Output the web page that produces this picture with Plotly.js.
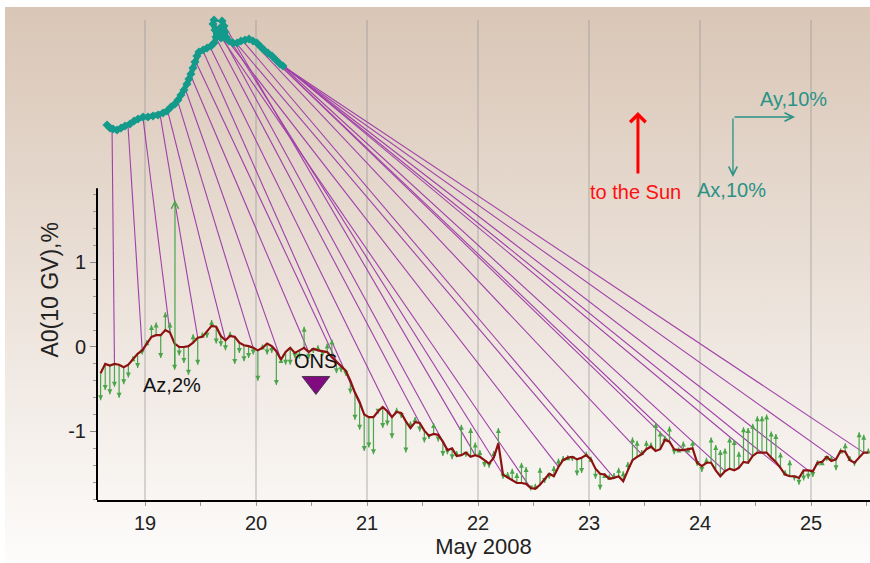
<!DOCTYPE html>
<html>
<head>
<meta charset="utf-8">
<script src="https://cdn.plot.ly/plotly-3.0.1.min.js"></script>
<style>
  html, body { margin: 0; padding: 0; background: #ffffff; }
  #bg { position: absolute; left: 5px; top: 7px; width: 865px; height: 556px;
        background: linear-gradient(to bottom, #d9c6b6 0%, #e9ded5 45%, #fdfcfb 100%); }
  #chart { position: absolute; left: 0; top: 0; width: 870px; height: 563px; }
</style>
</head>
<body>
<div id="bg"></div>
<div id="chart"></div>
<script>
// ---- data (hourly, starting 18 May 2008 ~14:24 UT) ----
const startDay = 18.6;
const a0 = [
 -0.31,-0.20,-0.22,-0.20,-0.21,-0.24,-0.21,-0.14,-0.08,-0.04,
  0.04, 0.12, 0.14, 0.14, 0.20, 0.17, 0.04, 0.00, 0.00, 0.01,
  0.05, 0.11, 0.12, 0.19, 0.25, 0.24, 0.13, 0.08, 0.13, 0.12,
  0.05, 0.02, 0.01,-0.01,-0.04,-0.01, 0.04, 0.01,-0.05,-0.15,
 -0.06,-0.01,-0.07,-0.04,-0.01,-0.06,-0.02,-0.04,-0.05,-0.06,
 -0.12,-0.17,-0.22,-0.28,-0.40,-0.54,-0.65,-0.80,-0.83,-0.83,
 -0.76,-0.71,-0.76,-0.83,-0.77,-0.78,-0.88,-0.96,-0.89,-0.90,
 -0.99,-1.05,-1.03,-1.04,-1.12,-1.22,-1.20,-1.29,-1.28,-1.25,
 -1.30,-1.28,-1.30,-1.34,-1.38,-1.31,-1.14,-1.51,-1.54,-1.57,
 -1.61,-1.61,-1.62,-1.67,-1.68,-1.63,-1.56,-1.50,-1.53,-1.42,
 -1.34,-1.31,-1.30,-1.33,-1.31,-1.28,-1.33,-1.44,-1.50,-1.51,
 -1.56,-1.55,-1.53,-1.59,-1.46,-1.34,-1.30,-1.27,-1.21,-1.18,
 -1.23,-1.21,-1.10,-1.12,-1.21,-1.22,-1.22,-1.21,-1.20,-1.37,
 -1.41,-1.37,-1.37,-1.46,-1.53,-1.47,-1.44,-1.46,-1.43,-1.36,
 -1.37,-1.29,-1.25,-1.25,-1.25,-1.31,-1.36,-1.43,-1.51,-1.53,
 -1.53,-1.55,-1.46,-1.46,-1.47,-1.37,-1.36,-1.30,-1.35,-1.33,
 -1.23,-1.24,-1.34,-1.37,-1.31,-1.25,-1.25
];
const az = [
 -0.32,-0.31,-0.34,-0.27,-0.39,-0.20,-0.15, 0.03,-0.17,-0.05,
  0.04, 0.14, 0.15,-0.27, 0.21, 0.12,-0.31,-0.10,-0.19,-0.34,
  0.10,-0.32, 0.05,-0.08, 0.07,-0.20,-0.12,-0.12, 0.05,-0.32,
 -0.12,-0.19,-0.14,-0.08,-0.36, 0.04,-0.13,-0.08,-0.40, 0.02,
 -0.15,-0.20,-0.06,-0.10, 0.25,-0.08,-0.05, 0.06,-0.06, 0.10,
  0.21,-0.14,-0.08,-0.06,-0.15,-0.32,-0.33,-0.43,-0.36,-0.44,
 -0.03,-0.25,-0.17,-0.25, 0.05,-0.06,-0.37, 0.08, 0.06,-0.10,
 -0.14,-0.04, 0.13,-0.08,-0.17,-0.05,-0.13, 0.06, 0.36,-0.05,
  0.34, 0.15, 0.08,-0.08,-0.05, 0.08, 0.18,-0.05, 0.06, 0.13,
  0.12, 0.24, 0.20,-0.03, 0.06, 0.20,-0.05,-0.06, 0.12, 0.10,
  0.05, 0.03,-0.05,-0.19,-0.18, 0.04, 0.03,-0.12,-0.19, 0.02,
  0.05, 0.06, 0.10, 0.12, 0.10, 0.27, 0.19, 0.05, 0.10, 0.05,
  0.33, 0.21, 0.05, 0.18,-0.06, 0.03, 0.10, 0.02, 0.09,-0.04,
 -0.07, 0.06, 0.30, 0.30, 0.31, 0.27, 0.37, 0.36, 0.19, 0.41,
  0.41, 0.38, 0.43, 0.43, 0.45, 0.31, 0.33, 0.18, 0.05, 0.19,
 -0.05,-0.08,-0.12,-0.10,-0.07, 0.03, 0.02,-0.05, 0.06,-0.13,
  0.03, 0.10, 0.05,-0.04, 0.30, 0.21, 0.05
];
// vector diagram (hodograph) path, in chart axis units
const hodoT = [18.658,18.685,18.712,18.748,18.784,18.820,18.865,18.901,18.937,18.982,
  19.027,19.072,19.117,19.162,19.198,19.234,19.270,19.297,19.324,19.351,
  19.378,19.396,19.414,19.432,19.450,19.468,19.486,19.523,19.559,19.595,
  19.622,19.640,19.631,19.613,19.622,19.658,19.694,19.712,19.721,19.712,
  19.685,19.667,19.676,19.703,19.730,19.757,19.793,19.829,19.865,19.901,
  19.937,19.973,20.009,20.045,20.072,20.108,20.144,20.180,20.216,20.243];
const hodoV = [2.627,2.592,2.580,2.568,2.592,2.615,2.639,2.675,2.698,2.722,
  2.722,2.734,2.746,2.769,2.793,2.840,2.876,2.923,2.982,3.041,
  3.112,3.172,3.231,3.302,3.373,3.444,3.491,3.515,3.538,3.562,
  3.598,3.669,3.751,3.822,3.870,3.882,3.858,3.799,3.728,3.669,
  3.657,3.716,3.775,3.740,3.669,3.621,3.598,3.598,3.621,3.633,
  3.645,3.621,3.598,3.550,3.515,3.479,3.444,3.396,3.349,3.325];
// 6-hourly connector lines: hour index of start, end point on the hodograph
const lineStartHour = [3,9,15,21,27,33,39,45,51,57,63,69,75,81,87,93,99,105,111,117,123,129,135,141,147,153,159,165];
const lineEndT = [18.703,18.847,18.982,19.135,19.207,19.297,19.369,19.414,19.459,19.523,19.586,19.631,19.622,19.694,
  19.721,19.685,19.748,19.820,19.883,19.946,20.000,20.054,20.090,20.126,20.162,20.189,20.216,20.243];
const lineEndV = [2.592,2.615,2.710,2.757,2.781,2.899,3.030,3.207,3.373,3.503,3.550,3.680,3.846,3.858,
  3.728,3.669,3.621,3.598,3.621,3.645,3.609,3.538,3.503,3.467,3.420,3.385,3.349,3.325];
const onsDay = 20.54;
const dayTicks = [19,20,21,22,23,24,25];
const dayLabels = ['19','20','21','22','23','24','25'];
const yTicks = [-1,0,1];
const yLabels = ['-1','0','1'];

// ---- build traces ----
const t = a0.map((_, i) => startDay + i / 24);

const purpleX = [], purpleY = [];
lineStartHour.forEach((h, k) => {
  purpleX.push(t[h], lineEndT[k], null);
  purpleY.push(a0[h], lineEndV[k], null);
});

const stemX = [], stemY = [], headX = [], headY = [], headSym = [];
a0.forEach((v, i) => {
  stemX.push(t[i], t[i], null);
  stemY.push(v, v + az[i], null);
  headX.push(t[i]); headY.push(v + az[i]);
  headSym.push(az[i] >= 0 ? 'arrow-up' : 'arrow-down');
});

const FONT = 'Liberation Sans, Arial, sans-serif';
const GREEN = '#4ba54b';
const TEAL = '#139a8b';
const TEAL_TXT = '#2a9285';

const traces = [
  { x: purpleX, y: purpleY, mode: 'lines', line: {color: '#a040a8', width: 1.1}, hoverinfo: 'skip', cliponaxis: false },
  { x: hodoT, y: hodoV, mode: 'lines+markers', line: {color: TEAL, width: 5},
    marker: {symbol: 'diamond', size: 7, color: TEAL}, hoverinfo: 'skip', cliponaxis: false },
  { x: stemX, y: stemY, mode: 'lines', line: {color: GREEN, width: 1.2}, hoverinfo: 'skip' },
  { x: headX, y: headY, mode: 'markers', marker: {symbol: headSym, size: 5, color: GREEN}, hoverinfo: 'skip' },
  { x: t, y: a0, mode: 'lines', line: {color: '#8c1212', width: 2.2}, hoverinfo: 'skip' },
  { x: [onsDay], y: [-0.42], mode: 'markers',
    marker: {symbol: 'triangle-down', size: 24, color: '#800a80', line: {color: '#4a3a4a', width: 1}}, hoverinfo: 'skip' }
];

const minorY = [];
for (let k = -9; k <= 9; k++) { if (k % 5 !== 0) minorY.push(k / 5); }
const minorX = [18.5,19.5,20.5,21.5,22.5,23.5,24.5,25.5];

const layout = {
  width: 870, height: 563,
  margin: {l: 97, r: 0, t: 20, b: 63},
  paper_bgcolor: 'rgba(0,0,0,0)', plot_bgcolor: 'rgba(0,0,0,0)',
  showlegend: false,
  font: {family: FONT, color: '#222'},
  xaxis: {
    range: [18.5676, 25.5315], tickmode: 'array', tickvals: dayTicks, ticktext: dayLabels,
    showgrid: true, gridcolor: 'rgba(150,150,150,0.35)', gridwidth: 1.6,
    showline: true, linecolor: '#000', linewidth: 2, zeroline: false,
    ticks: 'outside', ticklen: 4, tickcolor: '#999', tickwidth: 1,
    minor: {tickmode: 'array', tickvals: minorX, ticks: 'outside', ticklen: 4, tickcolor: '#999', showgrid: false},
    tickfont: {size: 20, family: FONT, color: '#222'},
    title: {text: 'May 2008', font: {size: 22, family: FONT, color: '#222'}, standoff: 4}
  },
  yaxis: {
    range: [-1.811, 3.870], tickmode: 'array', tickvals: yTicks, ticktext: yLabels,
    showgrid: false, zeroline: false, showline: false,
    ticks: 'outside', ticklen: 6, tickcolor: '#888', tickwidth: 1,
    minor: {tickmode: 'array', tickvals: minorY, ticks: 'outside', ticklen: 3, tickcolor: '#999', showgrid: false},
    tickfont: {size: 20, family: FONT, color: '#222'}
  },
  shapes: [
    {type: 'line', xref: 'paper', x0: 0, x1: 0, yref: 'y', y0: -1.811, y1: 1.88, line: {color: '#000', width: 2}}
  ],
  annotations: [
    {xref: 'paper', yref: 'y', x: 0, y: 0.68, xshift: -62, text: 'A0(10 GV),%', textangle: -90,
     showarrow: false, font: {size: 23, family: FONT, color: '#222'}},
    {x: 19.27, y: 1.74, ax: 19.27, ay: -0.27, axref: 'x', ayref: 'y', xref: 'x', yref: 'y', text: '',
     showarrow: true, arrowhead: 5, arrowsize: 1.2, arrowwidth: 1.2, arrowcolor: GREEN},
    {x: 19.24, y: -0.45, text: 'Az,2%', showarrow: false, font: {size: 20, family: FONT, color: '#111'}},
    {x: onsDay, y: -0.165, text: 'ONS', showarrow: false, font: {size: 20, family: FONT, color: '#111'}},
    {x: 23.441, y: 2.781, ax: 23.441, ay: 2.036, axref: 'x', ayref: 'y', xref: 'x', yref: 'y', text: '',
     showarrow: true, arrowhead: 4, arrowsize: 1, arrowwidth: 3, arrowcolor: '#ff0000'},
    {x: 23.42, y: 1.83, text: 'to the Sun', showarrow: false, font: {size: 20, family: FONT, color: '#ff1010'}},
    {x: 24.856, y: 2.722, ax: 24.297, ay: 2.722, axref: 'x', ayref: 'y', xref: 'x', yref: 'y', text: '',
     showarrow: true, arrowhead: 5, arrowsize: 1.3, arrowwidth: 1.3, arrowcolor: TEAL_TXT},
    {x: 24.297, y: 2.012, ax: 24.297, ay: 2.722, axref: 'x', ayref: 'y', xref: 'x', yref: 'y', text: '',
     showarrow: true, arrowhead: 5, arrowsize: 1.3, arrowwidth: 1.3, arrowcolor: TEAL_TXT},
    {x: 24.84, y: 2.935, text: 'Ay,10%', showarrow: false, font: {size: 20, family: FONT, color: TEAL_TXT}},
    {x: 24.28, y: 1.855, text: 'Ax,10%', showarrow: false, font: {size: 20, family: FONT, color: TEAL_TXT}}
  ]
};

Plotly.newPlot('chart', traces, layout, {staticPlot: true, displayModeBar: false});
</script>
</body>
</html>
